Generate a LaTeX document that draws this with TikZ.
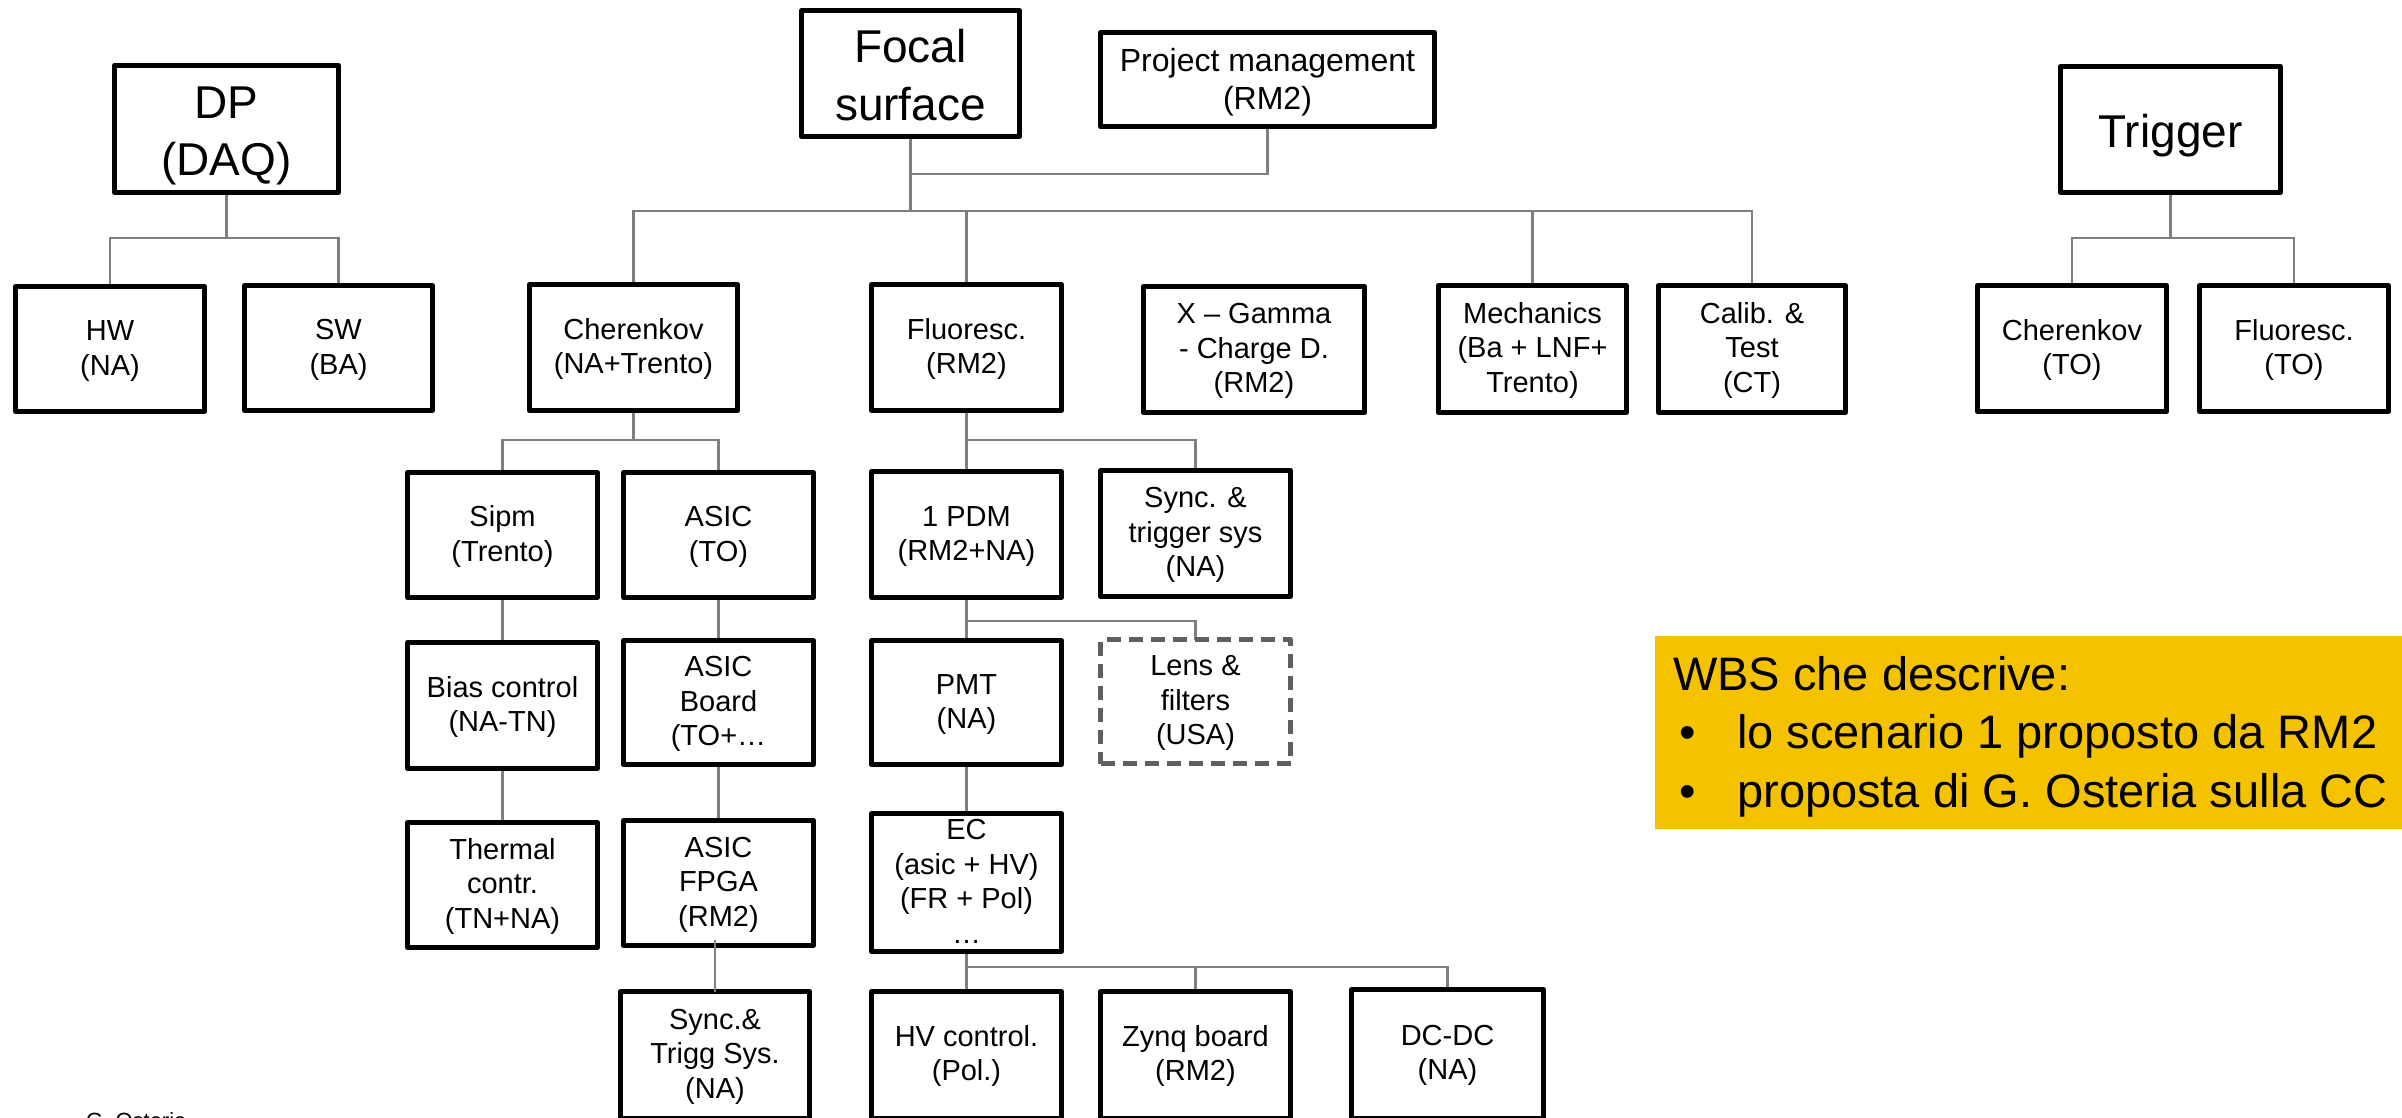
\documentclass[tikz,border=0pt]{standalone}
\usepackage{fontspec}
\setmainfont{Liberation Sans}
\usetikzlibrary{backgrounds}
\definecolor{conncol}{RGB}{127,127,127}
\definecolor{dashc}{RGB}{95,95,95}
\definecolor{wbsy}{RGB}{245,194,0}
\newcommand{\bstr}{\rule[-10.5pt]{0pt}{57.5pt}}
\newcommand{\sstr}{\rule[-8.5pt]{0pt}{34.5pt}}
\newcommand{\pstr}{\rule[-7.5pt]{0pt}{38pt}}
\tikzset{
  wbox/.style 2 args={draw=black, line width=5pt, line join=round, fill=white,
    inner sep=0pt, outer sep=0pt, align=center, minimum width=#1pt, minimum height=#2pt},
  bigtxt/.style={font=\fontsize{46}{57.5}\selectfont},
  smtxt/.style={font=\fontsize{29}{34.5}\selectfont},
  pmtxt/.style={font=\fontsize{32}{38}\selectfont},
  dashbox/.style={draw=dashc, line width=4.5pt, dash pattern=on 14pt off 8pt},
  conn/.style={draw=conncol, line width=2.2pt},
  wbstxt/.style={font=\fontsize{47}{58}\selectfont, anchor=base west, inner sep=0pt},
}
\begin{document}
\begin{tikzpicture}[x=1pt,y=-1pt]
\useasboundingbox (0,0) rectangle (2402,1118);
\begin{scope}
\clip (0,0) rectangle (2402,1118);
% top level
\node[wbox={224}{127}, bigtxt] (dp) at (226.5,129) {\bstr DP\\(DAQ)\bstr};
\node[wbox={218}{126}, bigtxt] (focal) at (910.5,73.5) {\bstr Focal\\surface\bstr};
\node[wbox={334}{94}, pmtxt] (pm) at (1267.5,79.5) {\pstr Project management\\(RM2)\pstr};
\node[wbox={220}{126}, bigtxt] (trig) at (2170.5,129.5) {\bstr Trigger\bstr};
% second level
\node[wbox={189}{125}, smtxt] (hw) at (110,349) {\sstr HW\\(NA)\sstr};
\node[wbox={188}{125}, smtxt] (sw) at (338.5,348) {\sstr SW\\(BA)\sstr};
\node[wbox={208}{126}, smtxt] (cher) at (633.5,347.5) {\sstr Cherenkov\\(NA+Trento)\sstr};
\node[wbox={190}{126}, smtxt] (fluor) at (966.5,347.5) {\sstr Fluoresc.\\(RM2)\sstr};
\node[wbox={221}{126}, smtxt] (xg) at (1254,349.5) {\sstr X – Gamma\\- Charge D.\\(RM2)\sstr};
\node[wbox={188}{127}, smtxt] (mech) at (1532.5,349) {\sstr Mechanics\\(Ba + LNF+\\Trento)\sstr};
\node[wbox={187}{127}, smtxt] (calib) at (1752,349) {\sstr Calib. \&\\Test\\(CT)\sstr};
\node[wbox={189}{126}, smtxt] (chto) at (2072,348.5) {\sstr Cherenkov\\(TO)\sstr};
\node[wbox={189}{126}, smtxt] (flto) at (2294,348.5) {\sstr Fluoresc.\\(TO)\sstr};
% third level
\node[wbox={190}{125}, smtxt] (sipm) at (502.5,535) {\sstr Sipm\\(Trento)\sstr};
\node[wbox={190}{125}, smtxt] (asic) at (718.5,535) {\sstr ASIC\\(TO)\sstr};
\node[wbox={190}{126}, smtxt] (pdm) at (966.5,534.5) {\sstr 1 PDM\\(RM2+NA)\sstr};
\node[wbox={190}{126}, smtxt] (synt) at (1195.5,533.5) {\sstr Sync. \&\\trigger sys\\(NA)\sstr};
% fourth level
\node[wbox={190}{126}, smtxt] (bias) at (502.5,705.5) {\sstr Bias control\\(NA-TN)\sstr};
\node[wbox={190}{124}, smtxt] (board) at (718.5,702.5) {\sstr ASIC\\Board\\(TO+…\sstr};
\node[wbox={190}{124}, smtxt] (pmt) at (966.5,702.5) {\sstr PMT\\(NA)\sstr};
\node[wbox={190}{124}, smtxt, dashbox] (lens) at (1195.5,701.5) {\sstr Lens \&\\filters\\(USA)\sstr};
% fifth level
\node[wbox={190}{125}, smtxt] (therm) at (502.5,885) {\sstr Thermal\\contr.\\(TN+NA)\sstr};
\node[wbox={190}{125}, smtxt] (fpga) at (718.5,883) {\sstr ASIC\\FPGA\\(RM2)\sstr};
\node[wbox={190}{124}, smtxt] (ec) at (966.5,882.5) {\sstr EC\\(asic + HV)\\(FR + Pol)\\…\sstr};
% bottom row
\node[wbox={189}{126.5}, smtxt] (sts) at (715,1054.75) {\sstr Sync.\&\\Trigg Sys.\\(NA)\sstr};
\node[wbox={190}{126.5}, smtxt] (hv) at (966.5,1054.75) {\sstr HV control.\\(Pol.)\sstr};
\node[wbox={190}{126.5}, smtxt] (zynq) at (1195.5,1054.75) {\sstr Zynq board\\(RM2)\sstr};
\node[wbox={192}{128.5}, smtxt] (dcdc) at (1447.5,1053.75) {\sstr DC-DC\\(NA)\sstr};
% connector drawn over the box
\draw[conn] (sts.north) -- ++(0,-52);
% yellow note
\fill[wbsy] (1655,636) rectangle (2410,829);
\node[wbstxt] (wbs0) at (1673,690) {WBS che descrive:};
\node[wbstxt] (b1) at (1679,748) {•};
\node[wbstxt] (wbs1) at (1737,748) {lo scenario 1 proposto da RM2};
\node[wbstxt] (b2) at (1679,807) {•};
\node[wbstxt] (wbs2) at (1737,807) {proposta di G. Osteria sulla CC};
% footer
\node[anchor=base west, inner sep=0pt, font=\fontsize{22}{26}\selectfont] (foot) at (86,1128) {G. Osteria};
\end{scope}
\begin{scope}[on background layer]
\fill[white] (0,0) rectangle (2402,1118);
\coordinate (fsj) at (focal.south |- 0,211);
\coordinate (pmj) at (focal.south |- 0,174);
\coordinate (chj) at (cher.south |- 0,440);
\coordinate (flj) at (fluor.south |- 0,440);
\coordinate (pdj) at (pdm.south |- 0,621);
\coordinate (ecj) at (ec.south |- 0,967);
\draw[conn] (dp.south) -- ++(0,45.5) -| (hw.north);
\draw[conn] (dp.south) ++(0,45.5) -| (sw.north);
\draw[conn] (trig.south) -- ++(0,45.5) -| (chto.north);
\draw[conn] (trig.south) ++(0,45.5) -| (flto.north);
\draw[conn] (focal.south) -- (fsj);
\draw[conn] (cher.north) |- (fsj) -| (calib.north);
\draw[conn] (fluor.north) -- (fluor.north |- fsj);
\draw[conn] (mech.north) -- (mech.north |- fsj);
\draw[conn] (pmj) -| (pm.south);
\draw[conn] (cher.south) -- (chj);
\draw[conn] (sipm.north) |- (chj) -| (asic.north);
\draw[conn] (fluor.south) -- (pdm.north);
\draw[conn] (flj) -| (synt.north);
\draw[conn] (sipm.south) -- (bias.north);
\draw[conn] (bias.south) -- (therm.north);
\draw[conn] (asic.south) -- (board.north);
\draw[conn] (board.south) -- (fpga.north);
\draw[conn] (pdm.south) -- (pmt.north);
\draw[conn] (pdj) -| (lens.north);
\draw[conn] (pmt.south) -- (ec.north);
\draw[conn] (ec.south) -- (hv.north);
\draw[conn] (ecj) -| (dcdc.north);
\draw[conn] (zynq.north) -- (zynq.north |- ecj);
\end{scope}
\end{tikzpicture}
\end{document}
